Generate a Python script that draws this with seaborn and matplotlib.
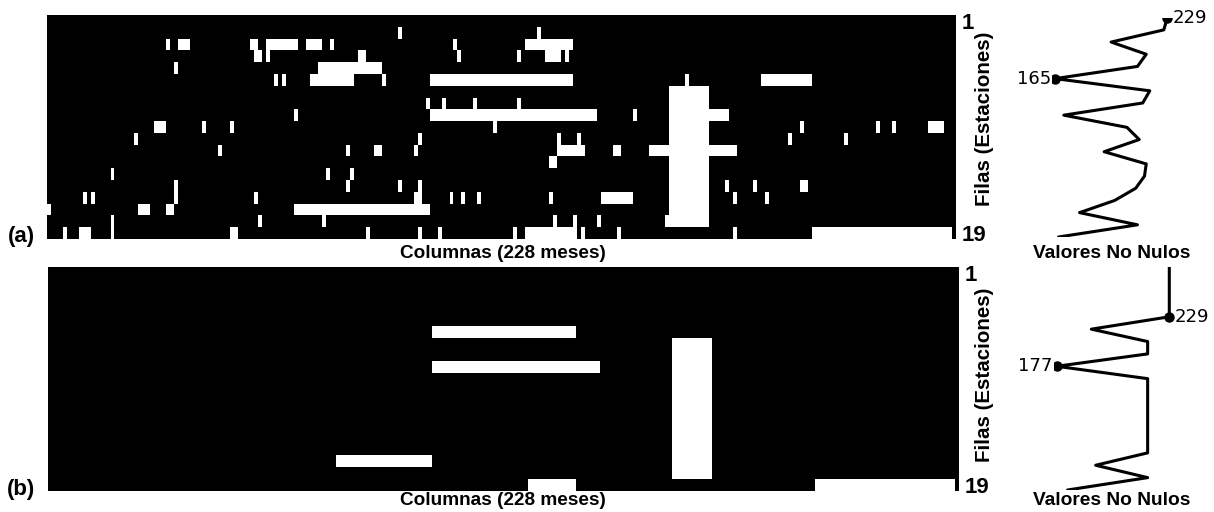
import numpy as np
import matplotlib
matplotlib.use("Agg")
import matplotlib.pyplot as plt
from matplotlib.colors import ListedColormap
import seaborn as sns

# ---------------------------------------------------------------------------
# Data: gaps in the monthly series of each station
# ---------------------------------------------------------------------------
n_filas = 19          # stations
n_meses = 228         # months
col_id = 1            # station identifier column, always filled

# Missing blocks as (first row, last row, first month, last month), inclusive, 0-based
huecos_a = [
    (1, 1, 88, 88), (1, 1, 123, 123),
    (2, 2, 30, 30), (2, 2, 33, 35), (2, 2, 51, 52), (2, 2, 55, 62), (2, 2, 65, 68),
    (2, 2, 71, 71), (2, 2, 102, 102), (2, 2, 120, 131),
    (3, 3, 52, 53), (3, 3, 55, 55), (3, 3, 78, 79), (3, 3, 103, 103), (3, 3, 118, 118),
    (3, 3, 125, 128), (3, 3, 130, 130),
    (4, 4, 32, 32), (4, 4, 68, 83),
    (5, 5, 57, 57), (5, 5, 59, 59), (5, 5, 66, 76), (5, 5, 84, 84), (5, 5, 96, 131),
    (5, 5, 160, 160), (5, 5, 179, 191),
    (6, 17, 156, 165),
    (7, 7, 95, 95), (7, 7, 99, 99), (7, 7, 107, 107), (7, 7, 118, 118),
    (8, 8, 62, 62), (8, 8, 96, 137), (8, 8, 147, 147), (8, 8, 166, 170),
    (9, 9, 27, 29), (9, 9, 39, 39), (9, 9, 46, 46), (9, 9, 112, 112), (9, 9, 189, 189),
    (9, 9, 208, 208), (9, 9, 212, 212), (9, 9, 221, 224),
    (10, 10, 22, 22), (10, 10, 93, 93), (10, 10, 128, 128), (10, 10, 133, 133),
    (10, 10, 186, 186), (10, 10, 200, 200),
    (11, 11, 43, 43), (11, 11, 75, 75), (11, 11, 82, 83), (11, 11, 92, 92),
    (11, 11, 128, 134), (11, 11, 142, 143), (11, 11, 151, 155), (11, 11, 166, 172),
    (12, 12, 126, 127),
    (13, 13, 16, 16), (13, 13, 70, 70), (13, 13, 76, 76),
    (14, 15, 32, 32), (14, 14, 75, 75), (14, 14, 88, 88), (14, 15, 93, 93),
    (14, 14, 170, 170), (14, 14, 177, 177), (14, 14, 189, 190),
    (15, 15, 9, 9), (15, 15, 11, 11), (15, 15, 52, 52), (15, 15, 92, 92),
    (15, 15, 101, 101), (15, 15, 104, 104), (15, 15, 108, 108), (15, 15, 126, 126),
    (15, 15, 139, 146), (15, 15, 172, 172), (15, 15, 180, 180),
    (16, 16, 0, 0), (16, 16, 23, 25), (16, 16, 30, 31), (16, 16, 62, 95),
    (17, 18, 16, 16), (17, 17, 53, 53), (17, 17, 69, 69), (17, 17, 127, 127),
    (17, 17, 132, 132), (17, 17, 138, 138), (17, 17, 155, 155),
    (18, 18, 4, 4), (18, 18, 8, 10), (18, 18, 46, 47), (18, 18, 80, 80),
    (18, 18, 93, 93), (18, 18, 98, 98), (18, 18, 117, 117), (18, 18, 120, 132),
    (18, 18, 134, 134), (18, 18, 143, 143), (18, 18, 172, 172), (18, 18, 192, 226),
]

huecos_b = [
    (5, 5, 96, 131),
    (8, 8, 96, 137),
    (6, 17, 156, 165),
    (16, 16, 72, 95),
    (18, 18, 120, 131),
    (18, 18, 192, 226),
]

etiquetas_filas = ["1", "19"]
etiquetas_paneles = ["(a)", "(b)"]
titulo_columnas = "Columnas (228 meses)"
titulo_filas = "Filas (Estaciones)"
titulo_sparkline = "Valores No Nulos"


def matriz_faltantes(huecos):
    m = np.zeros((n_filas, n_meses), dtype=int)
    for f0, f1, c0, c1 in huecos:
        m[f0:f1 + 1, c0:c1 + 1] = 1
    return m


# ---------------------------------------------------------------------------
# Figure
# ---------------------------------------------------------------------------
sns.set_style("white")
plt.rcParams["font.family"] = ["Liberation Sans", "DejaVu Sans"]
plt.rcParams["text.color"] = "black"
plt.rcParams["axes.labelcolor"] = "black"
plt.rcParams["xtick.color"] = "black"
plt.rcParams["ytick.color"] = "black"

W, H = 1214, 512
fig = plt.figure(figsize=(W / 100, H / 100), dpi=100)


def frac(x0, y0, x1, y1):
    """Pixel box (top-left origin) -> figure-fraction rect."""
    return [x0 / W, 1 - y1 / H, (x1 - x0) / W, (y1 - y0) / H]


paneles = [
    dict(huecos=huecos_a,
         matriz=(46.7, 15.0, 956.0, 239.0),
         spark=(1055.0, 17.7, 1167.3, 237.0),
         etiqueta=(21.5, 236.5), col_y=253.0, filas_y=119.0, spark_y=253.5),
    dict(huecos=huecos_b,
         matriz=(48.3, 267.3, 959.3, 490.5),
         spark=(1056.7, 267.3, 1169.3, 490.0),
         etiqueta=(21.5, 489.0), col_y=500.5, filas_y=375.0, spark_y=500.5),
]

cmap = ListedColormap(["black", "white"])
margen_izq, margen_der = 3.0, 6.0   # px of room around the sparkline extremes

for i, p in enumerate(paneles):
    m = matriz_faltantes(p["huecos"])

    # --- missing-value matrix ---
    ax = fig.add_axes(frac(*p["matriz"]))
    sns.heatmap(m, ax=ax, cmap=cmap, vmin=0, vmax=1, cbar=False,
                xticklabels=False, yticklabels=False)
    ax.set_yticks([0.5, n_filas - 0.5])
    ax.set_yticklabels(etiquetas_filas, fontsize=16, fontweight="bold")
    ax.yaxis.tick_right()
    ax.tick_params(axis="y", length=0, pad=4)
    ax.tick_params(axis="x", length=0)
    ax.set_xlabel("")
    ax.set_ylabel("")

    # --- sparkline of non-null values per station ---
    no_nulos = (n_meses - m.sum(axis=1)) + col_id
    filas = np.arange(n_filas)
    vmin, vmax = no_nulos.min(), no_nulos.max()
    x0, y0, x1, y1 = p["spark"]
    px_por_unidad = (x1 - x0) / (vmax - vmin)
    axs = fig.add_axes(frac(x0 - margen_izq, y0, x1 + margen_der, y1))
    sns.lineplot(x=no_nulos, y=filas, sort=False, estimator=None,
                 color="black", lw=2.2, ax=axs)
    axs.set_ylim(n_filas - 1, 0)
    axs.set_xlim(vmin - margen_izq / px_por_unidad,
                 vmax + margen_der / px_por_unidad)

    i_max = np.flatnonzero(no_nulos == vmax)[-1]
    i_min = np.flatnonzero(no_nulos == vmin)[0]
    axs.plot([vmax], [i_max], "o", color="black", ms=6.5)
    axs.plot([vmin], [i_min], "o", color="black", ms=6.5)
    axs.annotate(str(vmax), (vmax, i_max),
                 xytext=(4.0, 0), textcoords="offset points",
                 ha="left", va="center", fontsize=13, color="black",
                 family="DejaVu Sans", annotation_clip=False)
    axs.annotate(str(vmin), (vmin, i_min),
                 xytext=(-3.0, 0), textcoords="offset points",
                 ha="right", va="center", fontsize=13, color="black",
                 family="DejaVu Sans", annotation_clip=False)
    axs.axis("off")

    # --- labels ---
    ex, ey = p["etiqueta"]
    fig.text(ex / W, 1 - ey / H, etiquetas_paneles[i], fontsize=16,
             fontweight="bold", ha="center", va="center")
    fig.text(503 / W, 1 - p["col_y"] / H, titulo_columnas, fontsize=13.7,
             fontweight="bold", ha="center", va="center")
    fig.text(985 / W, 1 - p["filas_y"] / H, titulo_filas, fontsize=14.8,
             fontweight="bold", ha="center", va="center", rotation=90)
    fig.text(1112 / W, 1 - p["spark_y"] / H, titulo_sparkline, fontsize=13.8,
             fontweight="bold", ha="center", va="center")

fig.savefig("out.png", dpi=100, facecolor="white")
